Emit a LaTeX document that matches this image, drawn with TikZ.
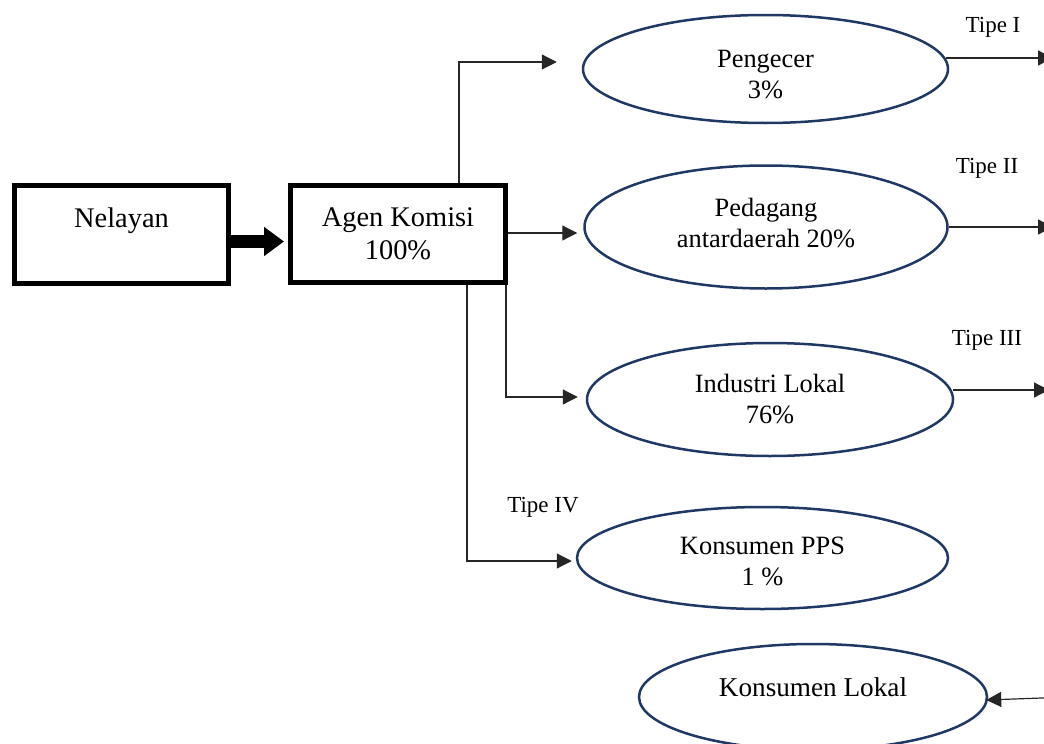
\documentclass[tikz,border=0pt]{standalone}
\usepackage{fontspec}
\setmainfont{Liberation Serif}
\usetikzlibrary{arrows.meta,calc,shapes.geometric}
\definecolor{navy}{HTML}{1F3864}
\tikzset{
  bigbox/.style={draw=black, line width=5pt, rectangle, minimum width=214pt, minimum height=97pt, align=center, font=\fontsize{28.4}{33}\selectfont, inner sep=0pt},
  oval/.style={draw=navy, line width=2.5pt, ellipse, align=center, font=\fontsize{26.4}{31}\selectfont, inner sep=2pt},
  conn/.style={draw=black!85, line width=1.2pt, -{Triangle[length=15pt,width=15pt]}},
  tipe/.style={font=\fontsize{23}{27}\selectfont, anchor=base},
  fat/.style={draw=black, line width=13pt, -{Triangle[length=20pt,width=28pt]}}
}
\begin{document}
\begin{tikzpicture}[x=1pt,y=-1pt]
\useasboundingbox (0,0) rectangle (1044,744);
% boxes
\node[bigbox, minimum height=98pt, text height=20pt, text depth=35pt] (Nel) at (121.5,234.5) {Nelayan};
\node[bigbox, minimum width=215pt] (Agen) at (398,234) {Agen Komisi\\100\%};
% ellipses
\node[oval, minimum width=365pt, minimum height=108pt, text height=58.5pt] (Peng) at (765.5,69) {Pengecer\\3\%};
\node[oval, minimum width=363pt, minimum height=123pt, text depth=9pt] (Peda) at (766,227) {Pedagang\\antardaerah 20\%};
\node[oval, minimum width=366pt, minimum height=113pt] (Indu) at (770,399.5) {Industri Lokal\\76\%};
\node[oval, minimum width=371pt, minimum height=102pt, text height=54.5pt] (KPPS) at (762.5,558) {Konsumen PPS\\1 \%};
\node[oval, minimum width=348pt, minimum height=106pt, font=\fontsize{27.2}{31}\selectfont, text height=18pt, text depth=20pt] (KL) at (813,697) {Konsumen Lokal};
% labels
\node[tipe] (t1) at (993,32) {Tipe I};
\node[tipe] (t2) at (987,173) {Tipe II};
\node[tipe] (t3) at (987,345) {Tipe III};
\node[tipe] (t4) at (543,512) {Tipe IV};
% fat arrow
\draw[fat] ($(Nel.east)+(0,7)$) -- ($(Agen.west)+(-4,7.5)$);
% connectors
\draw[conn] ($(Agen.north)+(61,0)$) |- ($(Peng.west)+(-25,-7)$);
\draw[conn] ($(Agen.east)+(0,-1)$) -- ($(Peda.west)+(-6,6)$);
\draw[conn] ($(Agen.south)+(108,0)$) |- ($(Indu.west)+(-8,-2.5)$);
\draw[conn] ($(Agen.south)+(69,0)$) |- ($(KPPS.west)+(-4,3)$);
\coordinate (e1) at (1053,58);
\coordinate (e2) at (1053,227);
\coordinate (e3) at (1049,390);
\coordinate (e4) at (1050,697.7);
\draw[conn] ($(Peng.east)+(-3,-11)$) -- (e1);
\draw[conn] (Peda.east) -- (e2);
\draw[conn] ($(Indu.east)+(-1,-9.5)$) -- (e3);
\draw[conn] (e4) -- ($(KL.east)+(-2,3)$);
\end{tikzpicture}
\end{document}
